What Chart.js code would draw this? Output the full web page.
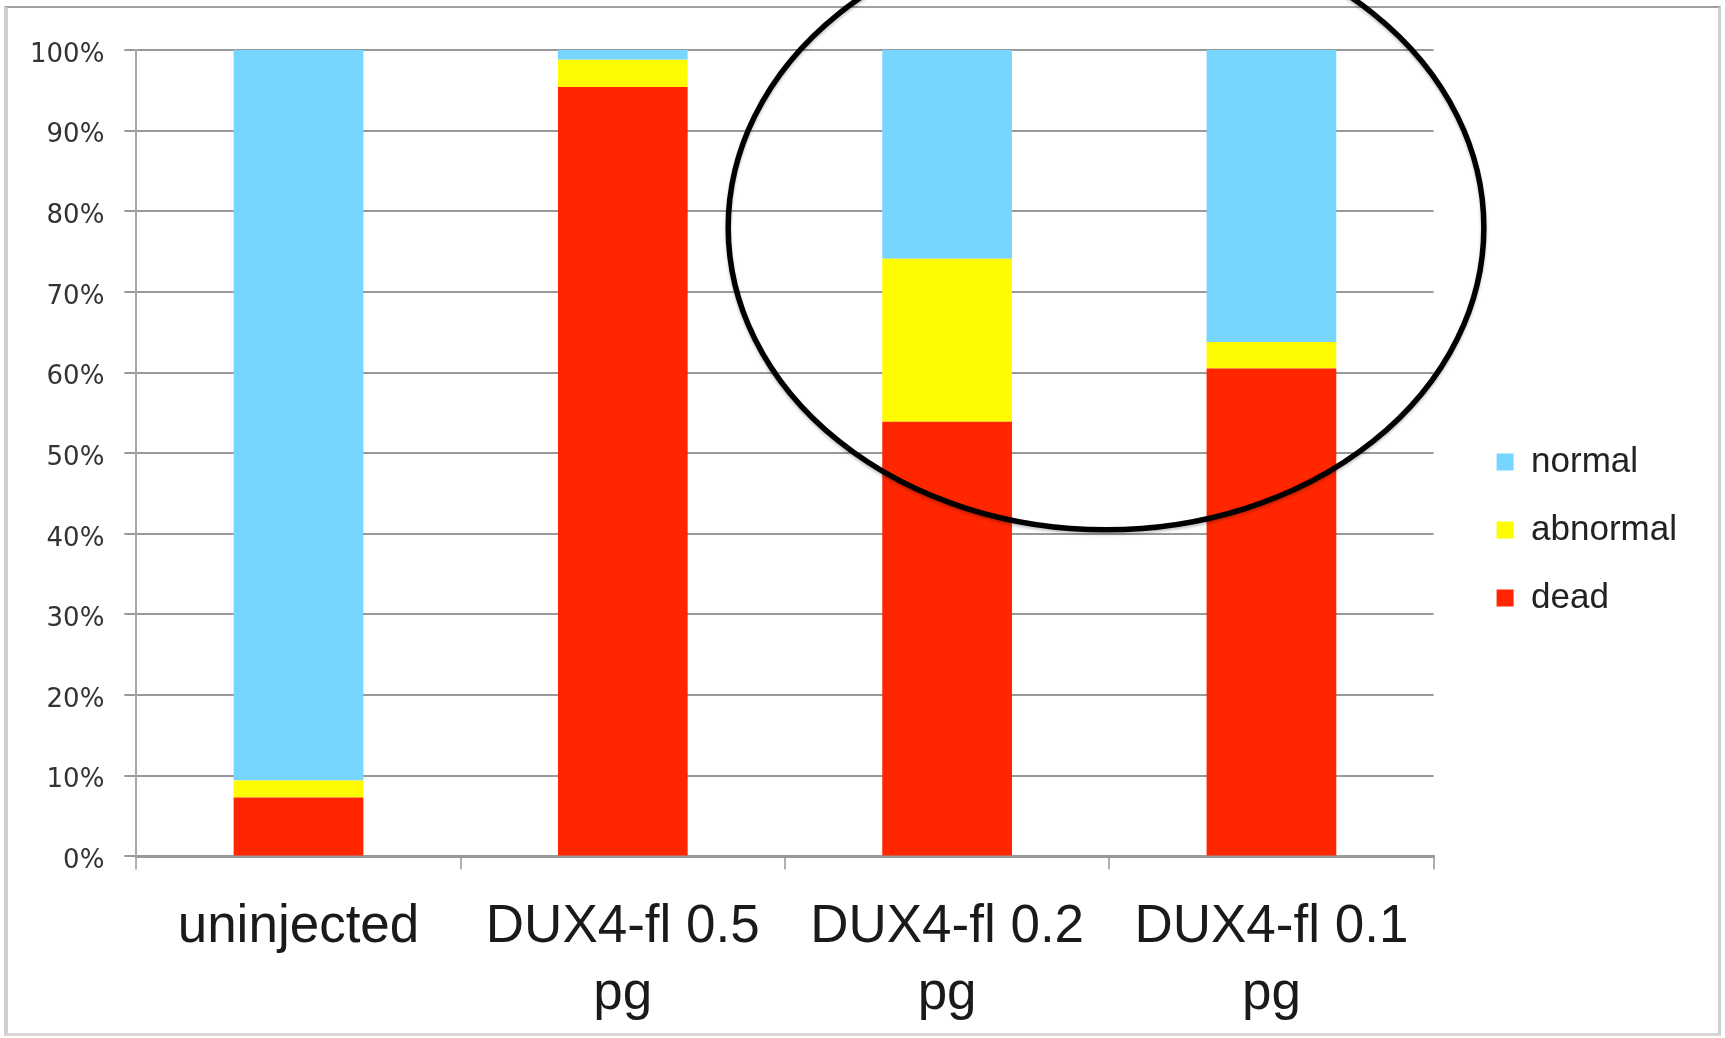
<!DOCTYPE html>
<html>
<head>
<meta charset="utf-8">
<title>DUX4-fl injection outcome</title>
<script src="https://cdn.jsdelivr.net/npm/chart.js@4/dist/chart.umd.min.js"></script>
<style>
body{margin:0;background:#fff;overflow:hidden;}
#wrap{position:relative;width:1725px;height:1038px;}
#frame{position:absolute;left:4px;top:6px;width:1710px;height:1025px;border-top:2px solid #a0a0a0;border-left:4px solid #cfcfcf;border-right:3px solid #cfcfcf;border-bottom:3px solid #d8d8d8;}
canvas{position:absolute;left:0;top:0;}
</style>
</head>
<body>
<div id="wrap">
<div id="frame"></div>
<canvas id="chart" width="1725" height="1038"></canvas>
</div>
<script>
// categories and % of embryos per outcome
const categories=["uninjected",["DUX4-fl 0.5","pg"],["DUX4-fl 0.2","pg"],["DUX4-fl 0.1","pg"]];
const dead=[7.3,95.4,53.9,60.5];
const abnormal=[2.1,3.4,20.2,3.3];
const normal=[90.6,1.2,25.9,36.2];
const yTicks=[0,10,20,30,40,50,60,70,80,90,100];

// hand drawn circle round the two low doses (data units: category index, %)
const circleCenter=[2.49,78];
const circleRadius=[1.165,37.5];

const circlePlugin={
id:"circle",
afterDatasetsDraw(chart){
let x=chart.scales.x, y=chart.scales.y;
let cx=x.getPixelForValue(circleCenter[0]);
let cy=y.getPixelForValue(circleCenter[1]);
let step=x.getPixelForValue(1)-x.getPixelForValue(0);
let rx=circleRadius[0]*step;
let ry=Math.abs(y.getPixelForValue(0)-y.getPixelForValue(circleRadius[1]));
let ctx=chart.ctx;
ctx.save();
ctx.beginPath();
ctx.ellipse(cx,cy,rx,ry,0,0,Math.PI*2);
ctx.lineWidth=5.5;
ctx.strokeStyle="#000";
ctx.shadowColor="rgba(0,0,0,0.25)";
ctx.shadowBlur=3;
ctx.shadowOffsetY=2;
ctx.stroke();
ctx.restore();
}
};

// empty axes used only as spacers
const spacer=(size,horizontal)=>({
display:true,
grid:{display:false},
border:{display:false},
ticks:{display:false},
afterFit(s){ if(horizontal) s.height=size; else s.width=size; }
});

new Chart(document.getElementById("chart"),{
type:"bar",
data:{
labels:categories,
datasets:[
{label:"dead",data:dead,backgroundColor:"#ff2600"},
{label:"abnormal",data:abnormal,backgroundColor:"#fffb00"},
{label:"normal",data:normal,backgroundColor:"#76d6ff"}
]
},
options:{
responsive:false,
animation:false,
categoryPercentage:1,
barPercentage:0.4,
layout:{padding:{top:8,left:10,right:38,bottom:-14}},
plugins:{
tooltip:{enabled:false},
legend:{
position:"right",
reverse:true,
labels:{
boxWidth:17,
boxHeight:17,
padding:33,
color:"#222",
font:{family:"'Liberation Sans', Arial, sans-serif",size:35}
}
}
},
scales:{
x:{
stacked:true,
grid:{offset:true,drawOnChartArea:false,tickLength:13,color:"#b0b0b0",lineWidth:2},
border:{color:"#999",width:3},
ticks:{
padding:24,
color:"#1a1a1a",
maxRotation:0,
font:{family:"'Liberation Sans', Arial, sans-serif",size:53,lineHeight:1.27}
}
},
y:{
stacked:true,
min:0,
max:100,
afterBuildTicks(s){s.ticks=yTicks.map(v=>({value:v}));},
grid:{color:"#999",lineWidth:2,tickLength:12},
border:{color:"#a8a8a8",width:2},
ticks:{
padding:20,
labelOffset:5,
color:"#333",
font:{family:"'DejaVu Sans', Verdana, sans-serif",size:26},
callback:v=>v+"%"
}
},
gapTop:Object.assign({position:"top"},spacer(42,true)),
gapRight:Object.assign({position:"right"},spacer(30,false))
}
},
plugins:[circlePlugin]
});
</script>
</body>
</html>
